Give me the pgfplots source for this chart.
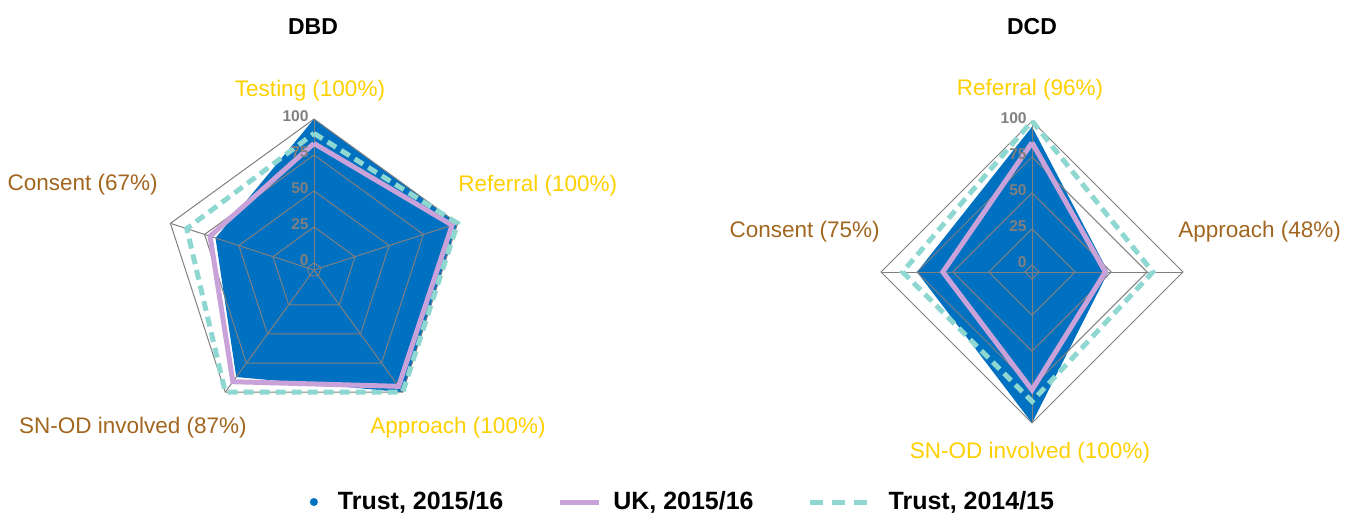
\documentclass[border=0pt]{standalone}
\usepackage{pgfplots}
\pgfplotsset{compat=1.18}
\usepackage{pgfplotstable}
\usepackage{fontspec}
\setmainfont{Liberation Sans}
\definecolor{cblue}{HTML}{0070C0}
\definecolor{cpurple}{HTML}{C8A2D8}
\definecolor{cteal}{HTML}{8FD8D2}
\definecolor{cgold}{HTML}{FFD000}
\definecolor{cbrown}{HTML}{A2661F}
\definecolor{cgrid}{HTML}{808080}

% DBD: axis angle, Trust 2015/16, UK 2015/16, Trust 2014/15
\pgfplotstableread{
a trust uk prev
90 100 83 90
18 100 96 100
-54 100 95 100
-126 87 91 100
162 67 71 88
90 100 83 90
}\dA
% DCD
\pgfplotstableread{
a trust uk prev
90 96 85 100
0 48 46 79
-90 100 77 85
180 75 57 85
90 96 85 100
}\dB
\pgfplotstableread{
a d
90 0
18 0
-54 0
-126 0
162 0
90 0
}\gA
\pgfplotstableread{
a d
90 0
0 0
-90 0
180 0
90 0
}\gB

\pgfplotsset{
  table/radA/.style={x expr={314+(\thisrow{#1}+5)*1.438*cos(\thisrow{a})},
                     y expr={246+(\thisrow{#1}+5)*1.438*sin(\thisrow{a})}},
  table/radB/.style={x expr={1032+(\thisrow{#1}+5)*1.438*cos(\thisrow{a})},
                     y expr={244+(\thisrow{#1}+5)*1.438*sin(\thisrow{a})}},
  gridst/.style={cgrid, line width=0.5pt, forget plot},
  ukst/.style={cpurple, line width=2.5pt, line join=miter},
  prevst/.style={cteal, line width=2.5pt, dash pattern=on 5pt off 3pt, line join=miter},
}
\newcommand{\lab}{\fontsize{11.25}{13}\selectfont}
\newcommand{\tk}{\fontsize{7.8}{9}\selectfont\bfseries}

\begin{document}
\begin{tikzpicture}
\begin{axis}[
  x=0.5pt, y=0.5pt, xmin=0, xmax=1359, ymin=0, ymax=516,
  scale only axis, hide axis, clip=false,
  legend columns=3,
  legend cell align=left,
  legend style={draw=none, fill=none, at={(axis cs:684,14)}, anchor=center,
    font=\fontsize{12.5}{14}\selectfont\bfseries,
    /tikz/every even column/.append style={column sep=25pt}},
]
% ---------- DBD ----------
\addplot[draw=none, fill=cblue,
  legend image code/.code={\fill[cblue] (0pt,0pt) circle (2pt); \path (10pt,0pt);}]
  table[radA=trust]{\dA};
\addlegendentry{Trust, 2015/16}
\pgfplotsinvokeforeach{0,25,50,75,100}{
  \addplot[gridst] table[x expr={314+(#1+5)*1.438*cos(\thisrow{a})},
                         y expr={246+(#1+5)*1.438*sin(\thisrow{a})}]{\gA};
}
\pgfplotsinvokeforeach{90,18,-54,-126,162}{
  \addplot[gridst] table[row sep=\\, x expr={314+(\thisrow{v}+5)*1.438*cos(\thisrow{a})},
                         y expr={246+(\thisrow{v}+5)*1.438*sin(\thisrow{a})}]{a v\\ #1 -5\\ #1 100\\};
}
\addplot[ukst, legend image code/.code={\draw[cpurple, line width=2.5pt] (0pt,0pt) -- (19.5pt,0pt); \path (23.5pt,0pt);}]
  table[radA=uk]{\dA};
\addlegendentry{UK, 2015/16}
\addplot[prevst, legend image code/.code={\draw[cteal, line width=2.5pt, dash pattern=on 6.5pt off 4.5pt] (0pt,0pt) -- (28.5pt,0pt); \path (36pt,0pt);}]
  table[radA=prev]{\dA};
\addlegendentry{Trust, 2014/15}

% ---------- DCD ----------
\addplot[draw=none, fill=cblue, forget plot] table[radB=trust]{\dB};
\pgfplotsinvokeforeach{0,25,50,75,100}{
  \addplot[gridst] table[x expr={1032+(#1+5)*1.438*cos(\thisrow{a})},
                         y expr={244+(#1+5)*1.438*sin(\thisrow{a})}]{\gB};
}
\pgfplotsinvokeforeach{90,0,-90,180}{
  \addplot[gridst] table[row sep=\\, x expr={1032+(\thisrow{v}+5)*1.438*cos(\thisrow{a})},
                         y expr={244+(\thisrow{v}+5)*1.438*sin(\thisrow{a})}]{a v\\ #1 -5\\ #1 100\\};
}
\addplot[ukst, forget plot] table[radB=uk]{\dB};
\addplot[prevst, forget plot] table[radB=prev]{\dB};

% tick labels
\pgfplotsinvokeforeach{0,25,50,75,100}{
  \node[anchor=east, inner sep=0pt, text=cgrid, font=\tk] at (axis cs:309,{246+(#1+5)*1.438+3}) {#1};
  \node[anchor=east, inner sep=0pt, text=cgrid, font=\tk] at (axis cs:1027,{244+(#1+5)*1.438+3}) {#1};
}

% titles
\node[font=\fontsize{11.5}{13}\selectfont\bfseries, inner sep=0pt] at (axis cs:313,489) {DBD};
\node[font=\fontsize{11.5}{13}\selectfont\bfseries, inner sep=0pt] at (axis cs:1032,489) {DCD};

% category labels DBD
\node[font=\lab, text=cgold, inner sep=0pt] at (axis cs:310,425) {Testing (100\%)};
\node[font=\lab, text=cgold, inner sep=0pt, anchor=west] at (axis cs:458,330) {Referral (100\%)};
\node[font=\lab, text=cgold, inner sep=0pt] at (axis cs:458,88) {Approach (100\%)};
\node[font=\lab, text=cbrown, inner sep=0pt] at (axis cs:133,88) {SN-OD involved (87\%)};
\node[font=\lab, text=cbrown, inner sep=0pt, anchor=east] at (axis cs:158,331) {Consent (67\%)};
% category labels DCD
\node[font=\lab, text=cgold, inner sep=0pt] at (axis cs:1030,426) {Referral (96\%)};
\node[font=\lab, text=cbrown, inner sep=0pt, anchor=west] at (axis cs:1178,284) {Approach (48\%)};
\node[font=\lab, text=cgold, inner sep=0pt] at (axis cs:1030,63) {SN-OD involved (100\%)};
\node[font=\lab, text=cbrown, inner sep=0pt, anchor=east] at (axis cs:880,284) {Consent (75\%)};

\path (axis cs:0,0) rectangle (axis cs:1359,516);
\end{axis}
\end{tikzpicture}
\end{document}
